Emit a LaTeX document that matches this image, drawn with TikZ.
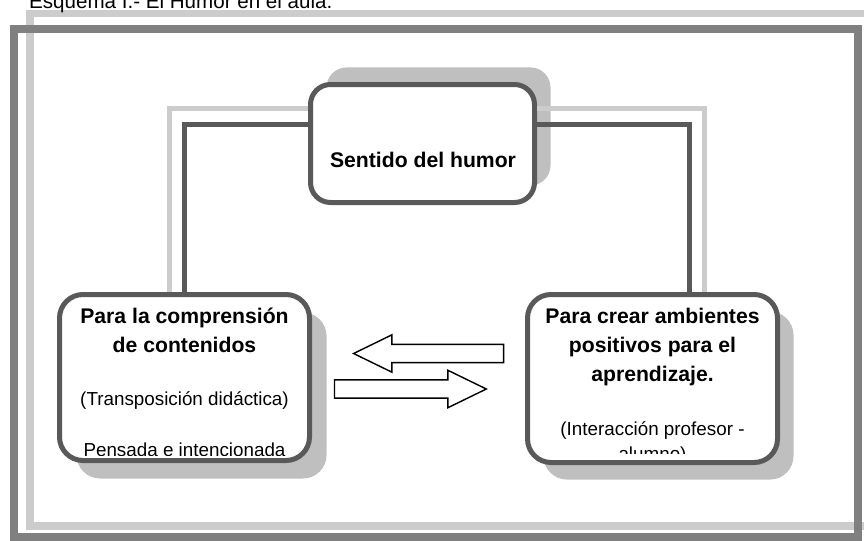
\documentclass[tikz,border=0pt]{standalone}
\usepackage{fontspec}
\setmainfont{Liberation Sans}
\usetikzlibrary{shapes.arrows,shadows}

\definecolor{borde}{gray}{0.35}
\definecolor{marco}{gray}{0.5}
\definecolor{claro}{gray}{0.8}
\definecolor{sombra}{gray}{0.75}

\begin{document}
\begin{tikzpicture}[x=0.85pt, y=-0.85pt,
	caja/.style={draw=borde, line width=4.25pt, fill=white, inner sep=0pt},
	linea/.style={draw=borde, line width=4.25pt},
	lineaclara/.style={draw=claro, line width=4.25pt},
	negrita/.style={font=\fontsize{18}{24}\selectfont\bfseries, anchor=base},
	normal/.style={font=\fontsize{16}{18}\selectfont, anchor=base},
	flecha/.style={single arrow, draw=black, fill=white, line width=1.2pt, inner xsep=0pt, inner ysep=7.2pt, single arrow tip angle=52, single arrow head extend=8.1pt}]
	\useasboundingbox (0,0) rectangle (864,540);
	
	\draw[claro, line width=6pt] (30,13.5) rectangle (880,526);
	\draw[marco, line width=6.8pt] (14,29) rectangle (858,537);
	\node[font=\fontsize{17.5}{20}\selectfont, anchor=base west] (esquema) at (25,8) {Esquema I.- El Humor en el aula.};
	
	\node[caja, rounded corners=17pt, minimum width=190.4pt, minimum height=100.3pt, drop shadow={shadow xshift=13.6pt, shadow yshift=14.5pt, fill=sombra, opacity=1}] (humor) at (422.5,143.5) {};
	\node[caja, rounded corners=20pt, minimum width=212.5pt, minimum height=141.1pt, drop shadow={shadow xshift=14.5pt, shadow yshift=-15.3pt, fill=sombra, opacity=1}] (izq) at (184.5,377.5) {};
	\node[caja, rounded corners=20pt, minimum width=212.5pt, minimum height=142.8pt, drop shadow={shadow xshift=13.6pt, shadow yshift=-14.5pt, fill=sombra, opacity=1}] (der) at (652.5,378.5) {};
	
	\draw[lineaclara] (humor.west |- 0,108) -| (izq.north -| 169,0);
	\draw[lineaclara] (humor.east |- 0,108) -| (der.north -| 704,0);
	\draw[linea] (humor.west |- 0,124) -| (izq.north);
	\draw[linea] (humor.east |- 0,124) -| (der.north -| 689,0);
	
	\node[flecha, minimum height=127.5pt, shape border rotate=180] (vuelta) at (438,353.5) {};
	\node[flecha, minimum height=129pt] (ida) at (401,389) {};
	
	\node[negrita] (humor-a) at (423,167) {Sentido del humor};
	\node[negrita] (izq-a) at (184.5,323) {Para la comprensión};
	\node[negrita] (izq-b) at (184.5,352) {de contenidos};
	\node[normal] (izq-c) at (184.5,405) {(Transposición didáctica)};
	\node[negrita] (der-a) at (652.5,323) {Para crear ambientes};
	\node[negrita] (der-b) at (652.5,352) {positivos para el};
	\node[negrita] (der-c) at (652.5,381) {aprendizaje.};
	\node[normal] (der-d) at (652.5,435) {(Interacción profesor -};
	\begin{scope}
		\clip (57,292) rectangle (312,455);
		\node[normal] (izq-d) at (184.5,456) {Pensada e intencionada};
	\end{scope}
	\begin{scope}
		\clip (525,292) rectangle (780,453);
		\node[normal] (der-e) at (652.5,460) {alumno)};
	\end{scope}
\end{tikzpicture}
\end{document}
